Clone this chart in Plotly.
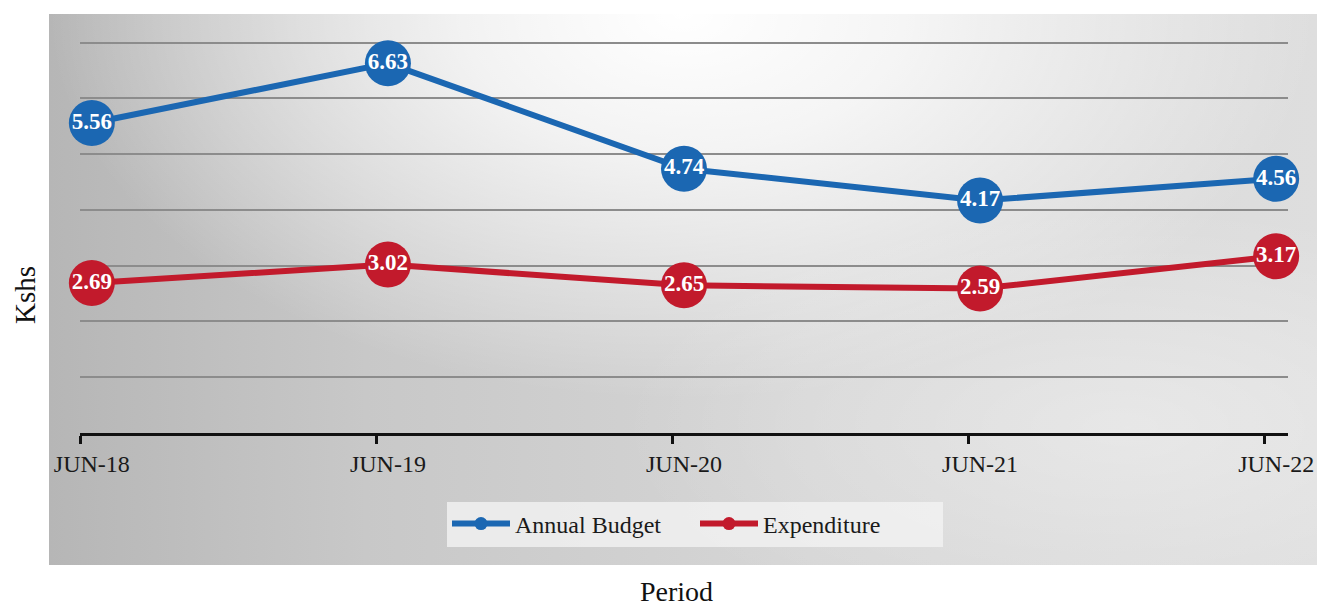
import base64
import plotly.graph_objects as go

# Period labels and values (Kshs)
periods = ["JUN-18", "JUN-19", "JUN-20", "JUN-21", "JUN-22"]
annual_budget = [5.56, 6.63, 4.74, 4.17, 4.56]
expenditure = [2.69, 3.02, 2.65, 2.59, 3.17]

BLUE = "#1b67b2"
RED = "#c21a2c"
SERIF = "Liberation Serif, Times New Roman, serif"

W, H = 1317, 607
L, R, T, B = 80, 29, 26, 174
plot_w = W - L - R
plot_h = H - T - B

# soft grey backdrop panel behind the chart
svg = (
    "<svg xmlns='http://www.w3.org/2000/svg' width='1268' height='551' preserveAspectRatio='none'>"
    "<defs>"
    "<linearGradient id='g' x1='0' y1='0' x2='1' y2='0'>"
    "<stop offset='0' stop-color='#b6b6b6'/>"
    "<stop offset='0.25' stop-color='#c8c8c8'/>"
    "<stop offset='0.6' stop-color='#d6d6d6'/>"
    "<stop offset='1' stop-color='#dedede'/>"
    "</linearGradient>"
    "<radialGradient id='r' cx='0.5' cy='0.0' r='0.5' gradientTransform='translate(0.5 0) scale(1 1.4) translate(-0.5 0)'>"
    "<stop offset='0' stop-color='#ffffff' stop-opacity='1'/>"
    "<stop offset='0.35' stop-color='#ffffff' stop-opacity='0.75'/>"
    "<stop offset='1' stop-color='#ffffff' stop-opacity='0'/>"
    "</radialGradient>"
    "<radialGradient id='r2' cx='0.85' cy='0.75' r='0.4'>"
    "<stop offset='0' stop-color='#ffffff' stop-opacity='0.35'/>"
    "<stop offset='1' stop-color='#ffffff' stop-opacity='0'/>"
    "</radialGradient>"
    "</defs>"
    "<rect width='100%' height='100%' fill='url(#g)'/>"
    "<rect width='100%' height='100%' fill='url(#r)'/>"
    "<rect width='100%' height='100%' fill='url(#r2)'/>"
    "</svg>"
)
svg_uri = "data:image/svg+xml;base64," + base64.b64encode(svg.encode()).decode()

panel_x0, panel_x1, panel_y0, panel_y1 = 49, 1317, 14, 565


def px_to_paper_x(px):
    return (px - L) / plot_w


def px_to_paper_y(py):
    return (H - B - py) / plot_h


fig = go.Figure()

for name, vals, color in [("Annual Budget", annual_budget, BLUE),
                          ("Expenditure", expenditure, RED)]:
    fig.add_trace(go.Scatter(
        x=periods, y=vals, name=name,
        mode="lines+markers+text",
        line=dict(color=color, width=6),
        marker=dict(color=color, size=46),
        text=[f"{v:.2f}" for v in vals],
        textposition="middle center",
        textfont=dict(family=SERIF, size=23, color="white", weight="bold"),
        cliponaxis=False,
        showlegend=False,
        hoverinfo="x+y+name",
    ))

# legend entries with small dots
for name, color in [("Annual Budget", BLUE), ("Expenditure", RED)]:
    fig.add_trace(go.Scatter(
        x=[None], y=[None], name=name, mode="lines+markers",
        line=dict(color=color, width=6),
        marker=dict(color=color, size=13),
        xaxis="x2", showlegend=True,
    ))

fig.update_layout(
    width=W, height=H,
    margin=dict(l=L, r=R, t=T, b=B, autoexpand=False),
    paper_bgcolor="white",
    plot_bgcolor="rgba(0,0,0,0)",
    font=dict(family=SERIF, color="#1a1a1a"),
    xaxis=dict(
        type="category", categoryorder="array", categoryarray=periods,
        range=[-0.04, 4.04], automargin=False,
        showgrid=False, showline=False, zeroline=False, ticks="",
        tickfont=dict(family=SERIF, size=24, color="#1a1a1a"),
        ticklabelstandoff=14,
    ),
    xaxis2=dict(
        type="category", categoryorder="array", categoryarray=periods,
        overlaying="x", anchor="y", side="bottom",
        range=[0, 4.08], automargin=False,
        showgrid=False, zeroline=False, showticklabels=False,
        showline=True, linecolor="#111111", linewidth=3,
        ticks="outside", ticklen=8, tickwidth=3, tickcolor="#111111",
    ),
    yaxis=dict(
        range=[0, 7.3], dtick=1, tick0=0, automargin=False,
        showgrid=True, gridcolor="#8c8c8c", gridwidth=1.5,
        zeroline=False, showline=False, showticklabels=False, ticks="",
    ),
    legend=dict(
        orientation="h", x=px_to_paper_x(695), xanchor="center",
        y=px_to_paper_y(524), yanchor="middle",
        bgcolor="rgba(242,242,242,0.8)",
        font=dict(family=SERIF, size=24, color="#1a1a1a"),
        entrywidth=175, itemwidth=58,
    ),
    images=[dict(
        source=svg_uri, xref="paper", yref="paper",
        x=px_to_paper_x(panel_x0), y=px_to_paper_y(panel_y0),
        sizex=(panel_x1 - panel_x0) / plot_w,
        sizey=(panel_y1 - panel_y0) / plot_h,
        xanchor="left", yanchor="top", sizing="stretch", layer="below",
    )],
    annotations=[
        dict(text="Kshs", xref="paper", yref="paper",
             x=px_to_paper_x(25), y=px_to_paper_y(295),
             xanchor="center", yanchor="middle", textangle=-90,
             showarrow=False, font=dict(family=SERIF, size=29, color="#111111")),
        dict(text="Period", xref="paper", yref="paper",
             x=px_to_paper_x(676), y=px_to_paper_y(591),
             xanchor="center", yanchor="middle",
             showarrow=False, font=dict(family=SERIF, size=28, color="#111111")),
    ],
)

fig.write_html("out.html")
